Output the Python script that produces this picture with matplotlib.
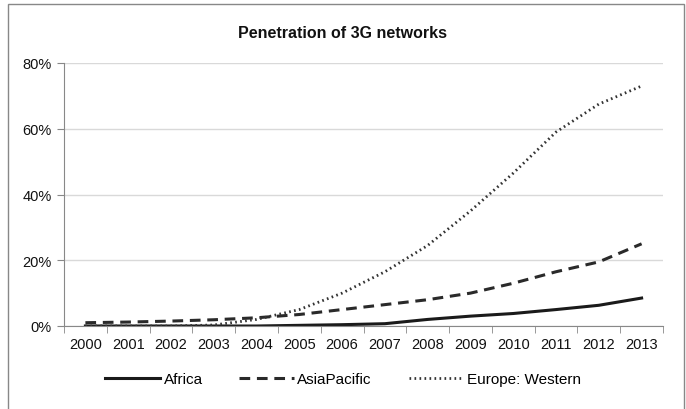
import matplotlib
matplotlib.use("Agg")
import matplotlib.pyplot as plt
from matplotlib.patches import Rectangle
from matplotlib.ticker import FixedLocator, PercentFormatter

plt.rcParams['font.family'] = ['Liberation Sans', 'DejaVu Sans']

years = [2000, 2001, 2002, 2003, 2004, 2005, 2006, 2007, 2008, 2009, 2010, 2011, 2012, 2013]
africa = [0.0, 0.0, 0.0, 0.0, 0.0, 0.2, 0.4, 0.7, 2.0, 3.0, 3.8, 5.0, 6.3, 8.5]
asia_pacific = [1.0, 1.2, 1.5, 1.9, 2.5, 3.5, 5.0, 6.5, 8.0, 10.0, 13.0, 16.5, 19.5, 25.0]
europe_western = [0.0, 0.0, 0.0, 0.3, 2.0, 5.0, 10.0, 16.5, 24.5, 35.0, 46.5, 59.0, 67.5, 73.0]
labels = ["Africa", "AsiaPacific", "Europe: Western"]
title = "Penetration of 3G networks"

fig = plt.figure(figsize=(6.86, 4.10), dpi=100)
ax = fig.add_axes([64/686, 1-327/410, (663-64)/686, (327-64)/410])

x = list(range(len(years)))
ax.plot(x, africa, color='#1a1a1a', lw=2.2, ls='-', label=labels[0])
ax.plot(x, asia_pacific, color='#2a2a2a', lw=2.2, ls=(0, (3.5, 2.2)), label=labels[1])
ax.plot(x, europe_western, color='#333333', lw=2.0, ls=(0, (0.6, 1.2)), label=labels[2])

ax.set_xlim(-0.45, len(years) - 0.55)
ax.set_ylim(0, 80)
ax.yaxis.set_major_locator(FixedLocator([0, 20, 40, 60, 80]))
ax.yaxis.set_major_formatter(PercentFormatter(decimals=0))
ax.set_xticks(x)
ax.set_xticklabels([str(y) for y in years])
ax.set_xticks([i - 0.5 for i in range(len(years) + 1)], minor=True)
ax.tick_params(axis='x', which='major', length=0, pad=8, labelsize=10.5, colors='#111111')
ax.tick_params(axis='x', which='minor', length=5, color='#888888', direction='out')
ax.tick_params(axis='y', length=5, color='#888888', labelsize=10.5, labelcolor='#111111', pad=4)

ax.grid(axis='y', color='#d9d9d9', lw=1)
ax.set_axisbelow(True)
for s in ['top', 'right']:
    ax.spines[s].set_visible(False)
ax.spines['left'].set_color('#888888')
ax.spines['bottom'].set_color('#888888')

fig.text(0.5, 1-33/410, title, ha='center', va='center', fontsize=11.5, fontweight='bold', color='#111111')

leg = fig.legend(loc='center', bbox_to_anchor=(0.5, 1-380/410), ncol=3, frameon=False,
                 fontsize=11, handlelength=3.6, handletextpad=0.2, columnspacing=2.4)

fig.patches.append(Rectangle((8/686, -0.01), (684-8)/686, 1-5/410 + 0.01, transform=fig.transFigure,
                             fill=False, edgecolor='#888888', lw=1))

fig.savefig('out.png', dpi=100)
